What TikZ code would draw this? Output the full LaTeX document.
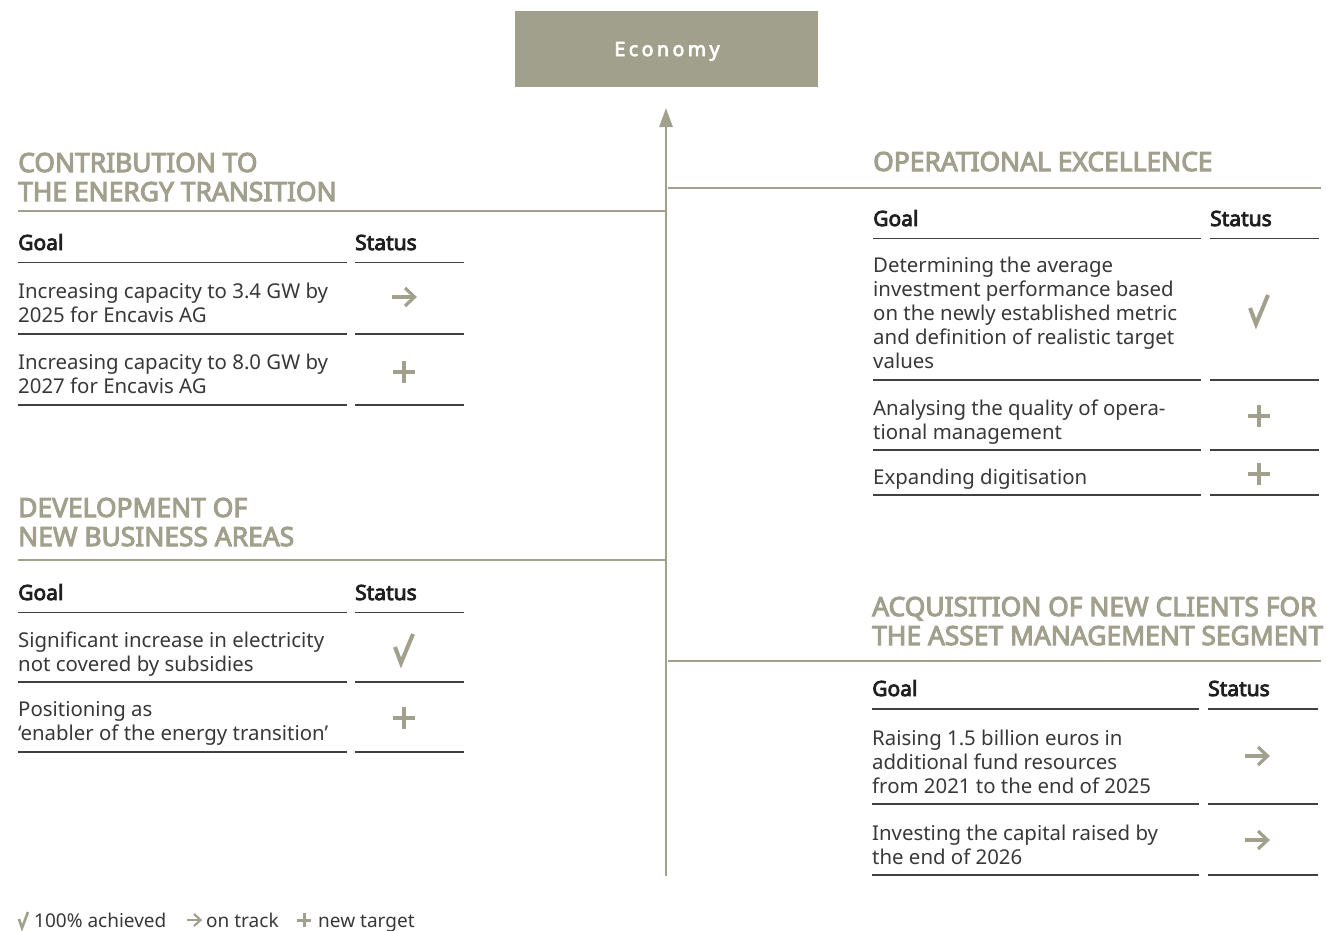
\documentclass[tikz,border=0pt]{standalone}
\usepackage{fontspec}
\setmainfont{Noto Sans}[BoldFont={Noto Sans}, BoldFeatures={FakeBold=3.8}]
\newfontfamily\ecofont{Noto Sans}[LetterSpace=18, FakeBold=3.8]
\usetikzlibrary{arrows.meta}
\definecolor{acc}{HTML}{A0A08C}
\definecolor{txt}{HTML}{383838}
\definecolor{rulec}{HTML}{404040}
\tikzset{
  body/.style={anchor=base west, align=left, font=\fontsize{20.4}{24}\selectfont, text=txt, inner sep=0pt},
  headtxt/.style={anchor=base west, align=left, font=\fontsize{26.4}{29}\selectfont\bfseries, text=acc, inner sep=0pt},
  colh/.style={anchor=base west, font=\fontsize{21}{24}\selectfont\bfseries, text=black!88, inner sep=0pt},
  legtxt/.style={anchor=base west, font=\fontsize{19}{22}\selectfont, text=txt, inner sep=0pt},
  trule/.style={draw=rulec, line width=1.4pt},
  axisline/.style={draw=acc, line width=2.8pt},
  symarrow/.pic={\draw[acc, line width=3.2pt] (-12,0) -- (10,0);
                 \draw[acc, line width=3.2pt, line join=miter] (1,-9) -- (10.5,0) -- (1,9);},
  symplus/.pic={\draw[acc, line width=4.2pt] (-11,0) -- (11,0) (0,-11) -- (0,11);},
  symcheck/.pic={\draw[acc, line width=4pt, line join=miter] (-9,-2) -- (-3,14) -- (9,-15);},
  smallarrow/.pic={\draw[acc, line width=2.2pt] (-7,0) -- (6,0);
                 \draw[acc, line width=2.2pt, line join=miter] (0,-6) -- (6.5,0) -- (0,6);},
  smallplus/.pic={\draw[acc, line width=3pt] (-7,0) -- (7,0) (0,-7) -- (0,7);},
  smallcheck/.pic={\draw[acc, line width=2.6pt, line join=miter] (-4,-1) -- (-1,8) -- (5,-8);},
}
\begin{document}
\begin{tikzpicture}[x=1pt,y=-1pt]
\useasboundingbox (0,0) rectangle (1327,930);

% Economy box
\node[fill=acc, minimum width=303pt, minimum height=76pt, inner sep=0pt, anchor=north west] (eco) at (515,11) {};
\node[anchor=base, text=white, font=\fontsize{19.5}{24}\selectfont\ecofont, inner sep=0pt] (ecot) at (667,56) {Economy};

% axis
\coordinate (axbot) at (666,876);
\coordinate (axtip) at (666,108);
\draw[axisline, -{Triangle[length=19pt,width=13pt]}] (axbot) -- (axtip);

% branch lines
\coordinate (l1a) at (18,211);  \coordinate (l1b) at (667,211);
\coordinate (l2a) at (18,560);  \coordinate (l2b) at (667,560);
\coordinate (r1a) at (668,188); \coordinate (r1b) at (1321,188);
\coordinate (r2a) at (668,661); \coordinate (r2b) at (1321,661);
\draw[axisline] (l1a) -- (l1b);
\draw[axisline] (l2a) -- (l2b);
\draw[axisline] (r1a) -- (r1b);
\draw[axisline] (r2a) -- (r2b);

% ---------- Contribution ----------
\node[headtxt] (h1) at (18,201) {CONTRIBUTION TO\\THE ENERGY TRANSITION};
\node[colh] (g1) at (18,250) {Goal};
\node[colh] (s1) at (355,250) {Status};
\draw[trule] (18,262.5) -- (347,262.5) (355,262.5) -- (464,262.5);
\node[body] (c1r1) at (18,322) {Increasing capacity to 3.4 GW by\\2025 for Encavis AG};
\pic at (404,297) {symarrow};
\draw[trule] (18,334) -- (347,334) (355,334) -- (464,334);
\node[body] (c1r2) at (18,393) {Increasing capacity to 8.0 GW by\\2027 for Encavis AG};
\pic at (404,372) {symplus};
\draw[trule] (18,405) -- (347,405) (355,405) -- (464,405);

% ---------- Development ----------
\node[headtxt] (h2) at (18,546) {DEVELOPMENT OF\\NEW BUSINESS AREAS};
\node[colh] (g2) at (18,600) {Goal};
\node[colh] (s2) at (355,600) {Status};
\draw[trule] (18,612.5) -- (347,612.5) (355,612.5) -- (464,612.5);
\node[body] (c2r1) at (18,671) {Significant increase in electricity\\not covered by subsidies};
\pic at (404,649) {symcheck};
\draw[trule] (18,682) -- (347,682) (355,682) -- (464,682);
\node[body] (c2r2) at (18,740) {Positioning as\\`enabler of the energy transition'};
\pic at (404,718) {symplus};
\draw[trule] (18,752) -- (347,752) (355,752) -- (464,752);

% ---------- Operational excellence ----------
\node[headtxt] (h3) at (873,171) {OPERATIONAL EXCELLENCE};
\node[colh] (g3) at (873,226) {Goal};
\node[colh] (s3) at (1210,226) {Status};
\draw[trule] (873,238.5) -- (1201,238.5) (1210,238.5) -- (1319,238.5);
\node[body] (c3r1) at (873,368) {Determining the average\\investment performance based\\on the newly established metric\\and definition of realistic target\\values};
\pic at (1259,310) {symcheck};
\draw[trule] (873,380) -- (1201,380) (1210,380) -- (1319,380);
\node[body] (c3r2) at (873,439) {Analysing the quality of opera-\\tional management};
\pic at (1259,416) {symplus};
\draw[trule] (873,450) -- (1201,450) (1210,450) -- (1319,450);
\node[body] (c3r3) at (873,484) {Expanding digitisation};
\pic at (1259,474) {symplus};
\draw[trule] (873,495) -- (1201,495) (1210,495) -- (1319,495);

% ---------- Acquisition ----------
\node[headtxt] (h4) at (872,645) {ACQUISITION OF NEW CLIENTS FOR\\THE ASSET MANAGEMENT SEGMENT};
\node[colh] (g4) at (872,696) {Goal};
\node[colh] (s4) at (1208,696) {Status};
\draw[trule] (872,709) -- (1199,709) (1208,709) -- (1318,709);
\node[body] (c4r1) at (872,793) {Raising 1.5 billion euros in\\additional fund resources\\from 2021 to the end of 2025};
\pic at (1257,756) {symarrow};
\draw[trule] (872,804) -- (1199,804) (1208,804) -- (1318,804);
\node[body] (c4r2) at (872,864) {Investing the capital raised by\\the end of 2026};
\pic at (1257,840) {symarrow};
\draw[trule] (872,875) -- (1199,875) (1208,875) -- (1318,875);

% ---------- Legend ----------
\pic at (23,920) {smallcheck};
\node[legtxt] (lg1) at (34,927) {100\% achieved};
\pic at (194,920) {smallarrow};
\node[legtxt] (lg2) at (206,927) {on track};
\pic at (304,920) {smallplus};
\node[legtxt] (lg3) at (318,927) {new target};
\end{tikzpicture}
\end{document}
